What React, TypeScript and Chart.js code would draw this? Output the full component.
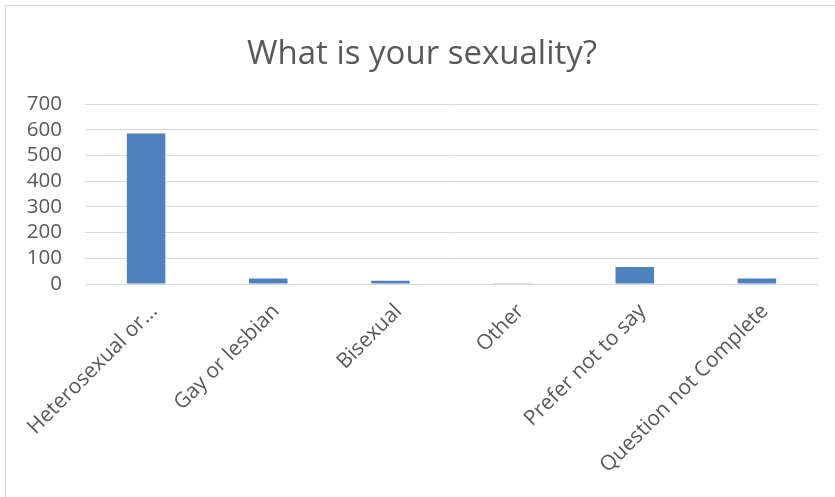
import React, { useEffect, useRef } from "react";
import { Chart, registerables } from "chart.js";

Chart.register(...registerables);

const categories = [
  "Heterosexual or...",
  "Gay or lesbian",
  "Bisexual",
  "Other",
  "Prefer not to say",
  "Question not Complete",
];
const counts = [585, 21, 13, 3, 66, 21];
const yTicks = [0, 100, 200, 300, 400, 500, 600, 700];

const FONT = "'Open Sans', Lato, sans-serif";

export default function App() {
  const ref = useRef<HTMLCanvasElement | null>(null);

  useEffect(() => {
    document.body.style.margin = "0";
    if (!ref.current) return;
    const chart = new Chart(ref.current, {
      type: "bar",
      data: {
        labels: categories,
        datasets: [
          {
            data: counts,
            backgroundColor: "#4F81BD",
            borderWidth: 0,
            barPercentage: 0.315,
            categoryPercentage: 1,
          },
        ],
      },
      options: {
        responsive: false,
        animation: false,
        layout: { padding: { left: 26, right: 17, top: 0, bottom: 0 } },
        plugins: {
          legend: { display: false },
          tooltip: { enabled: false },
          title: {
            display: true,
            text: "What is your sexuality?",
            color: "#595959",
            font: { family: FONT, size: 33, weight: "normal", lineHeight: 1.2 },
            padding: { top: 35, bottom: 29.4 },
          },
        },
        scales: {
          x: {
            afterFit: (axis: any) => {
              axis.height = 213;
              axis.paddingLeft = 0;
              axis.paddingRight = 0;
            },
            grid: { display: false, drawTicks: false },
            border: { display: true, color: "#d9d9d9", width: 1 },
            ticks: {
              color: "#595959",
              font: { family: FONT, size: 21 },
              maxRotation: 45,
              minRotation: 45,
              autoSkip: false,
              padding: 15,
              labelOffset: 8,
            },
          },
          y: {
            min: 0,
            max: 700,
            afterBuildTicks: (axis: any) => {
              axis.ticks = yTicks.map((v) => ({ value: v }));
            },
            afterFit: (axis: any) => {
              axis.width = 59;
            },
            grid: { color: "#d9d9d9", lineWidth: 1, drawTicks: false },
            border: { display: false },
            ticks: {
              color: "#595959",
              font: { family: FONT, size: 20.5 },
              padding: 23,
              autoSkip: false,
            },
          },
        },
      },
    });
    return () => chart.destroy();
  }, []);

  return (
    <div style={{ position: "fixed", left: 0, top: 0, width: 835, height: 497, background: "#fff", overflow: "hidden" }}>
      <div
        style={{
          position: "absolute",
          left: 5,
          top: 5,
          width: 840,
          height: 500,
          border: "1px solid #d9d9d9",
          boxSizing: "border-box",
        }}
      />
      <canvas ref={ref} width={835} height={497} style={{ position: "absolute", left: 0, top: 0, display: "block" }} />
    </div>
  );
}
